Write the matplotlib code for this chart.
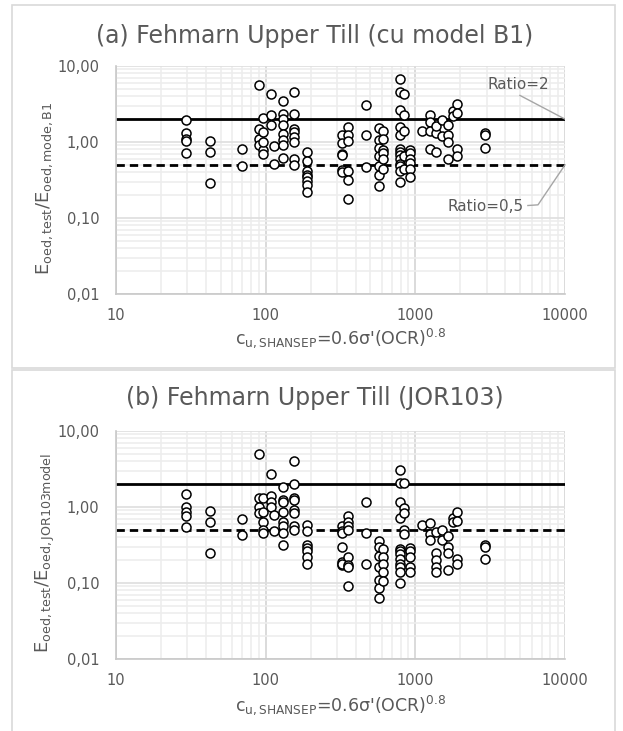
import matplotlib
matplotlib.use("Agg")
import matplotlib.pyplot as plt
from matplotlib.patches import Rectangle
from matplotlib.ticker import FixedLocator, LogLocator, NullFormatter

# c_u,SHANSEP values (x) and stiffness ratios (y)
x_a = [29.4]*5 + [42.7]*3 + [69]*2 + [90]*4 + [96]*5 + [108]*3 + [114]*2 \
    + [131]*8 + [155]*8 + [190]*8 + [322]*6 + [357]*6 + [468]*3 + [574]*7 \
    + [611]*6 + [789]*13 + [843]*5 + [920]*6 + [1102] + [1253]*4 + [1381]*3 \
    + [1513]*2 + [1644]*4 + [1780]*2 + [1894]*4 + [2917]*3
y_a = [1.93, 1.33, 1.10, 1.03, 0.72,
       1.02, 0.74, 0.29,
       0.82, 0.49,
       5.68, 1.5, 1.1, 0.9,
       2.07, 1.35, 0.78, 0.70, 1.0,
       4.32, 2.29, 1.66,
       0.88, 0.52,
       3.46, 2.36, 2.03, 1.66, 1.29, 1.05, 0.9, 0.62,
       4.55, 2.36, 1.5, 1.35, 1.16, 1.0, 0.6, 0.5,
       0.73, 0.57, 0.42, 0.37, 0.35, 0.31, 0.27, 0.22,
       1.25, 0.97, 0.7, 0.67, 0.43, 0.40,
       1.57, 1.25, 1.02, 0.42, 0.32, 0.18,
       3.04, 1.22, 0.47,
       1.55, 1.05, 0.83, 0.65, 0.49, 0.37, 0.26,
       1.4, 1.1, 0.78, 0.72, 0.6, 0.44,
       6.8, 4.55, 2.6, 1.58, 1.22, 0.82, 0.74, 0.67, 0.6, 0.52, 0.48, 0.41, 0.30,
       4.3, 2.25, 1.38, 0.44, 0.65,
       0.78, 0.72, 0.6, 0.53, 0.44, 0.35,
       1.38,
       2.29, 1.85, 1.38, 0.82,
       1.3, 0.74, 1.6,
       1.93, 1.2,
       1.69, 1.22, 1.0, 0.6,
       2.53, 2.2,
       3.2, 2.4, 0.8, 0.65,
       1.33, 1.22, 0.83]

x_b = [29.4]*5 + [42.7]*3 + [69]*2 + [90]*4 + [96]*5 + [108]*4 + [114]*2 \
    + [131]*8 + [155]*8 + [190]*7 + [322]*7 + [357]*8 + [468]*3 + [574]*7 \
    + [611]*5 + [789]*12 + [843]*5 + [920]*5 + [1102] + [1253]*3 + [1381]*5 \
    + [1513]*2 + [1644]*4 + [1780]*2 + [1894]*4 + [2917]*3
y_b = [1.48, 0.99, 0.87, 0.77, 0.54,
       0.88, 0.64, 0.25,
       0.70, 0.43,
       4.98, 1.33, 1.0, 0.83,
       1.33, 0.87, 0.64, 0.5, 0.45,
       2.69, 1.4, 1.17, 1.0,
       0.79, 0.49,
       1.85, 1.24, 1.17, 0.87, 0.64, 0.57, 0.46, 0.32,
       4.03, 2.0, 1.33, 1.24, 0.9, 0.83, 0.57, 0.5,
       0.58, 0.48, 0.32, 0.29, 0.26, 0.22, 0.18,
       0.57, 0.48, 0.30, 0.19, 0.17, 0.46, 0.18,
       0.76, 0.64, 0.57, 0.22, 0.17, 0.091, 0.5, 0.16,
       1.17, 0.46, 0.18,
       0.36, 0.30, 0.23, 0.16, 0.11, 0.085, 0.063,
       0.28, 0.22, 0.18, 0.14, 0.105,
       3.07, 2.09, 1.17, 0.71, 0.28, 0.26, 0.24, 0.21, 0.18, 0.16, 0.14, 0.10,
       2.05, 0.96, 0.83, 0.5, 0.44,
       0.29, 0.26, 0.22, 0.16, 0.14,
       0.58,
       0.61, 0.44, 0.37,
       0.47, 0.25, 0.2, 0.16, 0.14,
       0.5, 0.37,
       0.41, 0.3, 0.25, 0.15,
       0.71, 0.64,
       0.87, 0.66, 0.21, 0.18,
       0.32, 0.30, 0.21]

titles = ["(a) Fehmarn Upper Till (cu model B1)", "(b) Fehmarn Upper Till (JOR103)"]
ylabels = [r"$\mathregular{E_{oed,test}/E_{oed,mode,B1}}$",
           r"$\mathregular{E_{oed,test}/E_{oed,JOR103model}}$"]
xlabel = r"$\mathregular{c_{u,SHANSEP}}$=0.6σ'(OCR)$^{\mathregular{0.8}}$"
x_ticks = [10, 100, 1000, 10000]
x_ticklabels = ["10", "100", "1000", "10000"]
y_ticks = [0.01, 0.1, 1, 10]
y_ticklabels = ["0,01", "0,10", "1,00", "10,00"]
ratio_hi, ratio_lo = 2, 0.5

GRAY_TXT = "#595959"
W, H = 623, 731
fig = plt.figure(figsize=(W/100, H/100), dpi=100)

def fx(px):
    return px / W

def fy(py):
    return 1 - py / H

# panel frames
for top, bot in [(5, 368), (370, 735)]:
    fig.patches.append(Rectangle((fx(12), fy(bot)), fx(603), (bot-top)/H,
                                 transform=fig.transFigure, fill=False,
                                 edgecolor="#d9d9d9", lw=1.2))

panels = [(x_a, y_a, 66, 294, 36, 338), (x_b, y_b, 431, 659, 398, 705)]
for i, (xs, ys, ax_top, ax_bot, t_y, xl_y) in enumerate(panels):
    ax = fig.add_axes([fx(116), fy(ax_bot), fx(449), (ax_bot-ax_top)/H])
    ax.set_xscale("log")
    ax.set_yscale("log")
    ax.set_xlim(10, 10000)
    ax.set_ylim(0.01, 10)

    ax.xaxis.set_major_locator(FixedLocator(x_ticks))
    ax.set_xticklabels(x_ticklabels)
    ax.yaxis.set_major_locator(FixedLocator(y_ticks))
    ax.set_yticklabels(y_ticklabels)
    ax.xaxis.set_minor_locator(LogLocator(base=10, subs=range(2, 10)))
    ax.yaxis.set_minor_locator(LogLocator(base=10, subs=range(2, 10)))
    ax.xaxis.set_minor_formatter(NullFormatter())
    ax.yaxis.set_minor_formatter(NullFormatter())
    ax.tick_params(which="both", length=0, labelsize=10.5, labelcolor=GRAY_TXT)
    ax.tick_params(axis="y", pad=12)
    ax.tick_params(axis="x", pad=10)

    ax.grid(True, which="minor", color="#ededed", lw=1.2)
    ax.grid(True, which="major", axis="x", color="#d4d4d4", lw=1.2)
    ax.grid(True, which="major", axis="y", color="#dedede", lw=1.2)
    ax.set_axisbelow(True)
    for s in ["top", "right"]:
        ax.spines[s].set_visible(False)
    for s in ["left", "bottom"]:
        ax.spines[s].set_color("#c8c8c8")
        ax.spines[s].set_linewidth(1.2)

    ax.plot([10, 10000], [ratio_hi, ratio_hi], color="black", lw=2, zorder=2)
    ax.plot([10, 10000], [ratio_lo, ratio_lo], color="black", lw=2,
            ls=(0, (3, 1.8)), zorder=2)
    ax.plot(xs, ys, ls="none", marker="o", ms=6.5, mfc="white", mec="black",
            mew=1.1, zorder=3, clip_on=False)

    fig.text(fx(315), fy(t_y), titles[i], ha="center", va="center",
             fontsize=17, color=GRAY_TXT)
    fig.text(fx(45), fy((ax_top+ax_bot)/2 + 8), ylabels[i], rotation=90,
             ha="center", va="center", fontsize=13, color=GRAY_TXT)
    fig.text(fx(340), fy(xl_y), xlabel, ha="center", va="center",
             fontsize=12.5, color=GRAY_TXT)

    if i == 0:
        ax.plot([5000, 10000], [4.1, ratio_hi], color="#a6a6a6", lw=1, zorder=2)
        ax.text(4900, 5.7, "Ratio=2", ha="center", va="center",
                fontsize=11, color=GRAY_TXT)
        ax.plot([5650, 6600, 10000], [0.146, 0.149, ratio_lo], color="#a6a6a6",
                lw=1, zorder=2, clip_on=False)
        ax.text(2950, 0.143, "Ratio=0,5", ha="center", va="center",
                fontsize=11, color=GRAY_TXT)

fig.savefig("out.png", dpi=100)
